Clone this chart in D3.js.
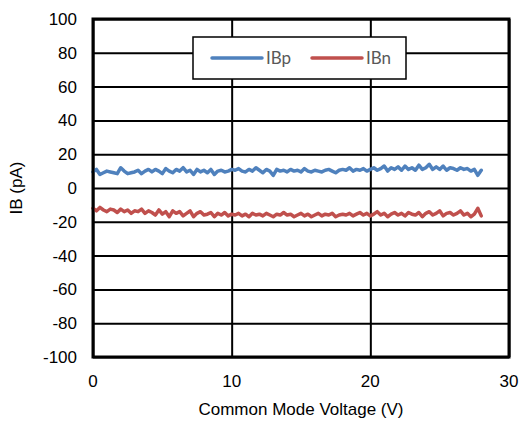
<!DOCTYPE html>
<html>
<head>
<meta charset="utf-8">
<script src="https://cdn.jsdelivr.net/npm/d3@7"></script>
<style>
  body { margin: 0; background: #fff; }
</style>
</head>
<body>
<script>
// data, 0.25 V steps
var voltage = [
  0, 0.25, 0.5, 0.75, 1, 1.25, 1.5, 1.75, 2, 2.25, 2.5, 2.75, 3, 3.25, 3.5, 3.75,
  4, 4.25, 4.5, 4.75, 5, 5.25, 5.5, 5.75, 6, 6.25, 6.5, 6.75, 7, 7.25, 7.5, 7.75,
  8, 8.25, 8.5, 8.75, 9, 9.25, 9.5, 9.75, 10, 10.25, 10.5, 10.75, 11, 11.25, 11.5, 11.75,
  12, 12.25, 12.5, 12.75, 13, 13.25, 13.5, 13.75, 14, 14.25, 14.5, 14.75, 15, 15.25, 15.5, 15.75,
  16, 16.25, 16.5, 16.75, 17, 17.25, 17.5, 17.75, 18, 18.25, 18.5, 18.75, 19, 19.25, 19.5, 19.75,
  20, 20.25, 20.5, 20.75, 21, 21.25, 21.5, 21.75, 22, 22.25, 22.5, 22.75, 23, 23.25, 23.5, 23.75,
  24, 24.25, 24.5, 24.75, 25, 25.25, 25.5, 25.75, 26, 26.25, 26.5, 26.75, 27, 27.25, 27.5, 27.75, 28
];
var ibp = [
  9.5, 11, 8, 9, 10, 9.5, 9, 8.5, 12,
  10, 8.5, 9, 9.5, 10.5, 8.5, 10, 11,
  9.5, 11, 10, 8.5, 11.5, 10, 9, 11,
  10, 12, 9.5, 10.5, 8, 11, 9.5, 10.5,
  9, 11, 8, 10, 10.5, 9.5, 10, 11,
  10.5, 11.5, 10, 9.5, 11, 10, 12, 10.5,
  9, 11, 10, 7.5, 11, 10, 10.5, 9.5,
  11, 10, 10.5, 9.5, 11.5, 10, 9.5, 10.5,
  10, 9.5, 10.5, 11, 10, 9, 10.5, 11,
  10.5, 12, 10, 11, 10.5, 11.5, 10, 11,
  12, 10.5, 11.5, 13, 10, 12, 11, 12.5,
  10.5, 13, 11, 12, 10.5, 13.5, 11, 12,
  14, 11, 12.5, 11, 13, 10.5, 12, 11.5,
  10.5, 12, 11, 11.5, 10, 11, 7.5, 10.5
];
var ibn = [
  -12, -13.5, -11.5, -13, -14, -12.5, -13, -14.5, -12.5,
  -14, -13, -15, -13.5, -14, -12.5, -15, -13.5,
  -14.5, -16, -13, -15.5, -14, -17, -13.5, -15,
  -14, -16.5, -15, -13.5, -17, -15, -14, -16,
  -15.5, -14.5, -17, -15, -16, -14.5, -16.5, -15.5,
  -16, -15, -16.5, -15.5, -17, -15, -16, -15.5,
  -16.5, -15, -16, -17, -15.5, -16, -14.5, -16,
  -15.5, -17, -16, -15, -16.5, -15.5, -17, -16,
  -15, -16.5, -15.5, -16, -15, -17, -16, -15.5,
  -16, -15, -16.5, -15.5, -14.5, -16, -15, -16.5,
  -15.5, -14, -16, -15, -17, -15.5, -14.5, -16,
  -15, -16.5, -14.5, -15.5, -16, -14.5, -17, -15,
  -14, -16, -15, -13.5, -16.5, -15, -14.5, -16,
  -15, -13.5, -16, -15, -17, -15.5, -12, -16.5
];
var seriesNames = ["IBp", "IBn"];
var seriesColors = ["#4f81bd", "#c0504d"];
var xTicks = [0, 10, 20, 30];
var yTicks = [-100, -80, -60, -40, -20, 0, 20, 40, 60, 80, 100];

(function()
{
    var w = 529, h = 424;
    var pl = 93, pr = 509, pt = 19, pb = 357;

    var svg = d3.select("body").append("svg")
        .attr("width", w)
        .attr("height", h);

    var x = d3.scaleLinear().domain([0, 30]).range([pl, pr]);
    var y = d3.scaleLinear().domain([-100, 100]).range([pb, pt]);

    // grid
    svg.append("g")
        .attr("transform", "translate(" + pl + ",0)")
        .call(d3.axisLeft(y).tickValues(yTicks).tickSize(-(pr - pl)).tickFormat(""))
        .call(function(g) { g.select(".domain").remove(); })
        .selectAll("line").attr("stroke", "#000").attr("stroke-width", 2);
    svg.append("g")
        .attr("transform", "translate(0," + pb + ")")
        .call(d3.axisBottom(x).tickValues(xTicks).tickSize(-(pb - pt)).tickFormat(""))
        .call(function(g) { g.select(".domain").remove(); })
        .selectAll("line").attr("stroke", "#000").attr("stroke-width", 2);

    // tick labels
    svg.append("g").selectAll("text")
        .data(yTicks)
        .enter()
        .append("text")
        .attr("x", 77)
        .attr("y", function(d) { return y(d) + 6; })
        .attr("text-anchor", "end")
        .attr("font-family", "Liberation Sans, Arial, sans-serif")
        .attr("font-size", "17px")
        .text(function(d) { return d; });
    svg.append("g").selectAll("text")
        .data(xTicks)
        .enter()
        .append("text")
        .attr("x", function(d) { return x(d); })
        .attr("y", 387)
        .attr("text-anchor", "middle")
        .attr("font-family", "Liberation Sans, Arial, sans-serif")
        .attr("font-size", "17px")
        .text(function(d) { return d; });

    // series
    var line = d3.line()
        .x(function(d) { return x(d[0]); })
        .y(function(d) { return y(d[1]); });
    [ibp, ibn].forEach(function(vals, k) {
        svg.append("path")
            .datum(d3.zip(voltage, vals))
            .attr("d", line)
            .attr("fill", "none")
            .attr("stroke", seriesColors[k])
            .attr("stroke-width", 3.5)
            .attr("stroke-linejoin", "round")
            .attr("stroke-linecap", "round");
    });

    // frame
    svg.append("rect")
        .attr("x", pl).attr("y", pt)
        .attr("width", pr - pl).attr("height", pb - pt)
        .attr("fill", "none")
        .attr("stroke", "#000")
        .attr("stroke-width", 3);

    // legend
    var lg = svg.append("g");
    lg.append("rect")
        .attr("x", 193).attr("y", 37)
        .attr("width", 213).attr("height", 42)
        .attr("fill", "#fff")
        .attr("stroke", "#000")
        .attr("stroke-width", 1.5);
    seriesNames.forEach(function(name, k) {
        var lx = 212 + k * 100;
        lg.append("line")
            .attr("x1", lx).attr("x2", lx + 50)
            .attr("y1", 58).attr("y2", 58)
            .attr("stroke", seriesColors[k])
            .attr("stroke-width", 3.5)
            .attr("stroke-linecap", "round");
        lg.append("text")
            .attr("x", lx + 54)
            .attr("y", 64)
            .attr("font-family", "Lato, Open Sans, sans-serif")
            .attr("font-size", "17px")
            .attr("fill", "#595959")
            .text(name);
    });

    // axis titles
    svg.append("text")
        .attr("x", (pl + pr) / 2)
        .attr("y", 415)
        .attr("text-anchor", "middle")
        .attr("font-family", "Liberation Sans, Arial, sans-serif")
        .attr("font-size", "17px")
        .text("Common Mode Voltage (V)");
    svg.append("text")
        .attr("transform", "translate(22," + ((pt + pb) / 2) + ") rotate(-90)")
        .attr("text-anchor", "middle")
        .attr("font-family", "Liberation Sans, Arial, sans-serif")
        .attr("font-size", "17px")
        .text("IB (pA)");
})();
</script>
</body>
</html>
